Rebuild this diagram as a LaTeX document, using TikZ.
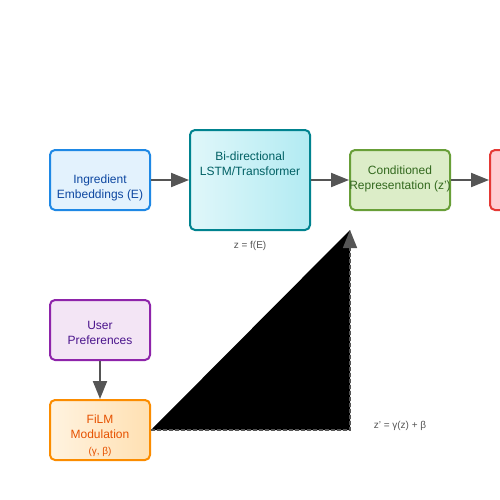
\documentclass[tikz,border=0pt]{standalone}
\usepackage{fontspec}
\setmainfont{Liberation Sans}
\usepackage{xcolor}
\usetikzlibrary{arrows.meta}
\definecolor{ingrFill}{HTML}{E3F2FD}
\definecolor{ingrDraw}{HTML}{1E88E5}
\definecolor{ingrText}{HTML}{0D47A1}
\definecolor{lstmLeft}{HTML}{E0F7FA}
\definecolor{lstmRight}{HTML}{B2EBF2}
\definecolor{lstmDraw}{HTML}{00838F}
\definecolor{lstmText}{HTML}{006064}
\definecolor{condFill}{HTML}{DCEDC8}
\definecolor{condDraw}{HTML}{689F38}
\definecolor{condText}{HTML}{33691E}
\definecolor{outFill}{HTML}{FFCDD2}
\definecolor{outDraw}{HTML}{E53935}
\definecolor{userFill}{HTML}{F3E5F5}
\definecolor{userDraw}{HTML}{8E24AA}
\definecolor{userText}{HTML}{4A148C}
\definecolor{filmLeft}{HTML}{FFF3E0}
\definecolor{filmRight}{HTML}{FFE0B2}
\definecolor{filmDraw}{HTML}{FB8C00}
\definecolor{filmText}{HTML}{E65100}
\definecolor{arrowGray}{HTML}{555555}
\definecolor{noteGray}{HTML}{555555}
\tikzset{
	stage/.style = {draw, rounded corners = 5pt, line width = 2pt, minimum width = 100pt, minimum height = 60pt, inner sep = 0pt},
	caption/.style = {align = center, inner sep = 0pt, font = \fontsize{12}{15}\selectfont},
	flow/.style = {draw = arrowGray, line width = 2pt, -{Triangle[length = 18pt, width = 14pt]}},
	note/.style = {text = noteGray, font = \fontsize{10}{12}\selectfont},
}

\begin{document}
\begin{tikzpicture}[x = 1pt, y = -1pt]%
		\clip (0, 0) rectangle (500, 500);
		\fill[white] (0, 0) rectangle (500, 500);

		% encoder row
		\node[stage, fill = ingrFill, draw = ingrDraw] (ingr) at (100, 180) {};
		\node[caption, text = ingrText] (ingrLabel) at (100, 188) {Ingredient\\Embeddings (E)};

		\node[stage, left color = lstmLeft, right color = lstmRight, draw = lstmDraw, minimum width = 120pt, minimum height = 100pt] (lstm) at (250, 180) {};
		\node[caption, text = lstmText] (lstmLabel) at (250, 163.5) {Bi-directional\\LSTM/Transformer};

		\node[stage, fill = condFill, draw = condDraw] (cond) at (400, 180) {};
		\node[caption, text = condText] (condLabel) at (400, 178.5) {Conditioned\\Representation (z')};

		\node[stage, fill = outFill, draw = outDraw] (output) at (540, 180) {};

		\node[note] (encNote) at (250, 246) {z = f(E)};

		% conditioning branch
		\node[stage, fill = userFill, draw = userDraw] (user) at (100, 330) {};
		\node[caption, text = userText] (userLabel) at (100, 333) {User\\Preferences};

		\node[stage, left color = filmLeft, right color = filmRight, draw = filmDraw] (film) at (100, 430) {};
		\node[caption, text = filmText] (filmLabel) at (100, 436) {FiLM\\Modulation\\[1pt]{\fontsize{10}{12}\selectfont (γ, β)}};

		\node[note] (filmNote) at (400, 426) {z' = γ(z) + β};

		\coordinate (mergePt) at (350, 230);

		\draw[flow] (ingr) -- (lstm);
		\draw[flow] (lstm) -- (cond);
		\draw[flow] (cond) -- (output);
		\draw[flow] (user) -- (film);
		\fill[black] (film.east) -- (film.east -| mergePt) -- (mergePt) -- cycle;
		\draw[flow, line width = 1.5pt, dash pattern = on 4pt off 2pt] (film.east) -- (film.east -| mergePt) -- (mergePt);
	\end{tikzpicture}
\end{document}
